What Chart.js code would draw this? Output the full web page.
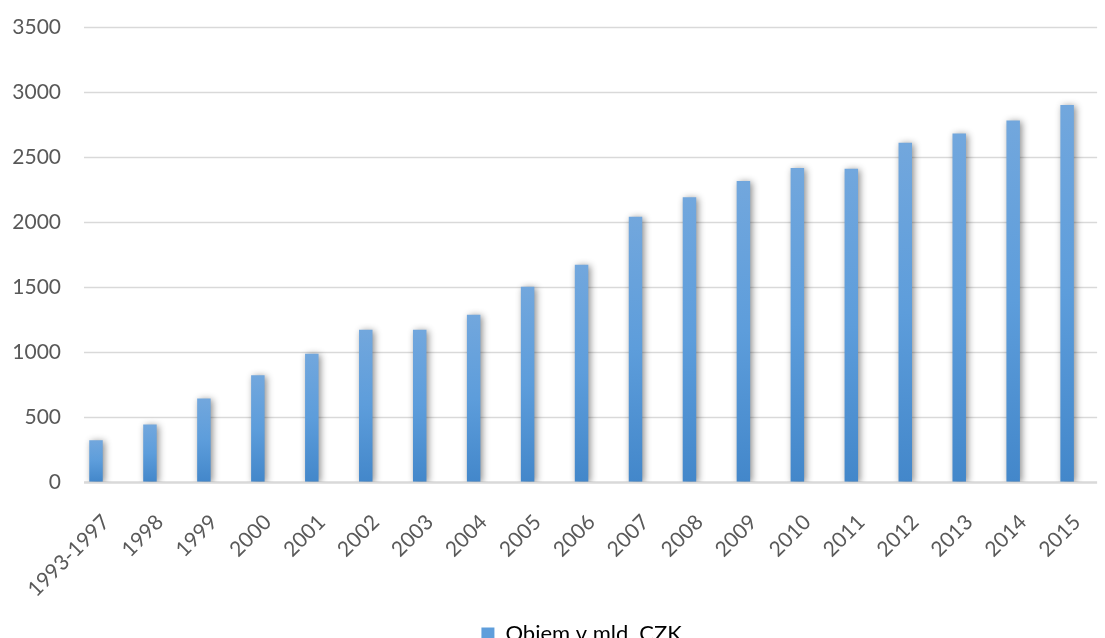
<!DOCTYPE html>
<html>
<head>
<meta charset="utf-8">
<script src="https://cdn.jsdelivr.net/npm/chart.js@4/dist/chart.umd.min.js"></script>
<style>
  html, body { margin: 0; padding: 0; background: #fff; overflow: hidden; }
  #wrap { position: relative; width: 1105px; height: 655px; }
</style>
</head>
<body>
<div id="wrap"><canvas id="grafico_objem"></canvas></div>
<script>
const roky = ["1993-1997", "1998", "1999", "2000", "2001", "2002", "2003", "2004", "2005", "2006",
  "2007", "2008", "2009", "2010", "2011", "2012", "2013", "2014", "2015"];
const objem = [320, 440, 640, 820, 985, 1170, 1170, 1285, 1500, 1670,
  2040, 2190, 2315, 2415, 2410, 2610, 2680, 2780, 2900];
const osaY = [0, 500, 1000, 1500, 2000, 2500, 3000, 3500];

const sedaText = "#595959";
const sedaMrizka = "#d9d9d9";

// vodorovna mrizka zacina az kousek vpravo od kraje oblasti grafu
const mrizka = {
  id: "mrizka",
  beforeDatasetsDraw(chart) {
    const { ctx, chartArea, scales } = chart;
    ctx.save();
    ctx.strokeStyle = sedaMrizka;
    osaY.forEach((v) => {
      const y = Math.round(scales.y.getPixelForValue(v)) + 0.5;
      ctx.lineWidth = v === 0 ? 2.5 : 1.3;
      ctx.beginPath();
      ctx.moveTo(chartArea.left + 15, y);
      ctx.lineTo(chartArea.right + 3, y);
      ctx.stroke();
    });
    ctx.restore();
  },
};

// jemny stin pod sloupci
const stin = {
  id: "stin",
  beforeDatasetsDraw(chart) {
    const ctx = chart.ctx;
    ctx.save();
    ctx.shadowColor = "rgba(0,0,0,0.45)";
    ctx.shadowBlur = 7;
    ctx.shadowOffsetX = 2;
    ctx.shadowOffsetY = 1;
  },
  afterDatasetsDraw(chart) {
    chart.ctx.restore();
  },
};

function prechod(context) {
  const chart = context.chart;
  const { ctx, chartArea, scales } = chart;
  if (!chartArea || context.type !== "data") return "#5b9bd5";
  const top = scales.y.getPixelForValue(context.raw);
  const base = scales.y.getPixelForValue(0);
  const g = ctx.createLinearGradient(0, top, 0, base);
  g.addColorStop(0, "#72a7dd");
  g.addColorStop(0.5, "#5d9ddb");
  g.addColorStop(1, "#4387ca");
  return g;
}

const ctx = document.querySelector("#grafico_objem").getContext("2d");

new Chart(ctx, {
  type: "bar",
  data: {
    labels: roky,
    datasets: [
      {
        label: "Objem v mld. CZK",
        data: objem,
        backgroundColor: prechod,
        borderWidth: 0,
        barPercentage: 0.5,
        categoryPercentage: 0.5,
      },
    ],
  },
  options: {
    responsive: true,
    maintainAspectRatio: false,
    animation: false,
    layout: { padding: { top: 27, right: 3, left: 0, bottom: 0 } },
    plugins: {
      legend: {
        position: "bottom",
        fullSize: false,
        labels: {
          color: sedaText,
          font: { family: "Lato", size: 22 },
          boxWidth: 13,
          boxHeight: 13,
          padding: 1,
          generateLabels: (chart) => [
            {
              text: chart.data.datasets[0].label,
              fillStyle: "#5f9edb",
              strokeStyle: "#5f9edb",
              lineWidth: 0,
              datasetIndex: 0,
            },
          ],
        },
      },
      tooltip: { enabled: false },
    },
    scales: {
      x: {
        offset: true,
        grid: { display: false },
        border: { display: false },
        ticks: {
          color: sedaText,
          font: { family: "Lato", size: 21 },
          minRotation: 45,
          maxRotation: 45,
          padding: 20,
          labelOffset: 10,
          autoSkip: false,
        },
      },
      y: {
        min: 0,
        max: 3500,
        grid: { display: false },
        border: { display: false },
        afterFit: (scale) => { scale.width = 68; },
        ticks: {
          stepSize: 500,
          color: sedaText,
          font: { family: "Lato", size: 21 },
          padding: 0,
          callback: (v) => String(v),
        },
      },
    },
  },
  plugins: [mrizka, stin],
});
</script>
</body>
</html>
